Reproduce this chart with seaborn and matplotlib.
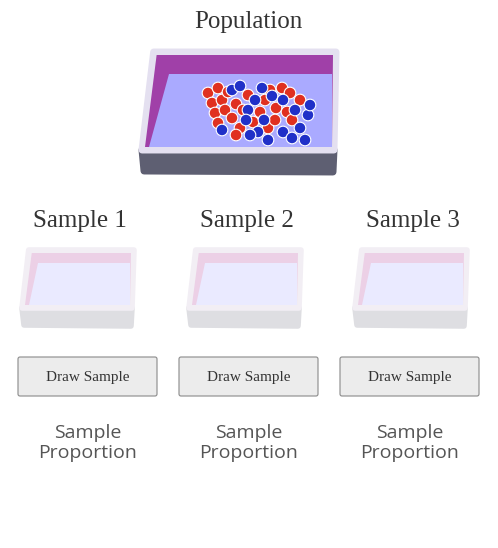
import matplotlib
matplotlib.use("Agg")
import matplotlib.pyplot as plt
from matplotlib.patches import Polygon, FancyBboxPatch
import seaborn as sns
import pandas as pd

sns.set_theme(style="white")

red_x = [208,218,212,222,228,215,225,232,218,236,243,248,240,253,260,265,270,282,290,276,287,300,268,292,236,275]
red_y = [93,88,103,100,92,113,110,118,123,104,110,95,128,122,112,100,90,88,93,108,112,100,128,120,135,120]
blue_x = [232,240,248,255,262,258,250,268,272,283,295,300,308,283,292,305,222,246,264,310]
blue_y = [90,86,110,100,88,132,135,140,96,100,110,128,115,132,138,140,130,120,120,105]
sample_titles = ["Sample 1", "Sample 2", "Sample 3"]
sample_centers = [80, 247, 413]
button_label = "Draw Sample"
prop_label = "Sample\nProportion"

balls = pd.DataFrame({
    "x": red_x + blue_x,
    "y": red_y + blue_y,
    "color": ["red"] * len(red_x) + ["blue"] * len(blue_x),
})

fig = plt.figure(figsize=(4.98, 5.48), dpi=100)
ax = fig.add_axes([0, 0, 1, 1])
ax.set_xlim(0, 498)
ax.set_ylim(548, 0)
ax.axis("off")

def box(ax, x0, y0, w, h, depth, rim, side, wall, floor, edge, lw):
    s = w * 0.06
    top = [(x0 + s, y0), (x0 + w, y0), (x0 + w - 2, y0 + h), (x0, y0 + h)]
    sidep = [(x0, y0 + h), (x0 + w - 2, y0 + h), (x0 + w - 3, y0 + h + depth), (x0 + 2, y0 + h + depth - 1)]
    ax.add_patch(Polygon(sidep, closed=True, fc=side, ec=side, lw=lw, joinstyle="round"))
    ax.add_patch(Polygon(top, closed=True, fc=rim, ec=edge, lw=lw, joinstyle="round"))
    t = 3
    wall_p = [(x0 + s + t, y0 + t), (x0 + w - t, y0 + t), (x0 + w - t - 1, y0 + h - t),
              (x0 + t, y0 + h - t)]
    floor_p = [(x0 + s + w * 0.08, y0 + h * 0.22), (x0 + w - t - 1, y0 + h * 0.22),
               (x0 + w - t - 1, y0 + h - t), (x0 + t + 4, y0 + h - t)]
    ax.add_patch(Polygon(wall_p, closed=True, fc=wall, ec="none"))
    ax.add_patch(Polygon(floor_p, closed=True, fc=floor, ec="none"))

box(ax, 142, 52, 194, 98, 22, "#d8d0e8", "#5e5f72", "#a040a8", "#aaaaff", "#e4e0f0", 5)
for c in sample_centers:
    box(ax, c - 58, 250, 112, 58, 18, "#f4f0f4", "#dedee2", "#ecd0e6", "#eaeaff", "#f2eef4", 4)

sns.scatterplot(data=balls, x="x", y="y", hue="color",
                palette={"red": "#e03020", "blue": "#2030c8"},
                s=70, edgecolor="#ffffff", linewidth=0.8, legend=False, ax=ax, zorder=5)
ax.set_xlim(0, 498)
ax.set_ylim(548, 0)

ax.text(248, 22, "Population", ha="center", va="center", fontsize=18, family="Liberation Serif", color="#333333")
bx = [18, 179, 340]
for t, c, b in zip(sample_titles, sample_centers, bx):
    ax.text(c, 221, t, ha="center", va="center", fontsize=18, family="Liberation Serif", color="#333333")
    ax.add_patch(FancyBboxPatch((b, 357), 139, 39, boxstyle="round,pad=0,rounding_size=2",
                                fc="#ececec", ec="#8a8a8a", lw=0.8))
    ax.text(b + 69.5, 377, button_label, ha="center", va="center", fontsize=11,
            family="Liberation Serif", color="#333333")
    ax.text(b + 70, 443, prop_label, ha="center", va="center", fontsize=14,
            family="Open Sans", color="#555555", linespacing=1.1)

fig.savefig("out.png", dpi=100)
